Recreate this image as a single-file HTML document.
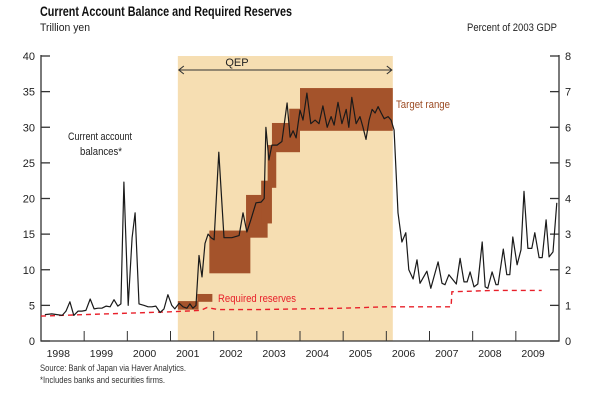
<!DOCTYPE html>
<html><head><meta charset="utf-8"><style>
html,body{margin:0;padding:0;background:#fff}
svg{display:block;font-family:"Liberation Sans",sans-serif}
</style></head><body>
<svg id="chart" width="600" height="405" viewBox="0 0 600 405"></svg>
<script>
const dates=[1998.09,1998.25,1998.37,1998.49,1998.58,1998.67,1998.76,1998.86,1998.95,1999.04,1999.14,1999.23,1999.32,1999.41,1999.51,1999.60,1999.69,1999.78,1999.85,1999.92,2000.02,2000.11,2000.18,2000.27,2000.39,2000.48,2000.57,2000.66,2000.76,2000.85,2000.94,2001.03,2001.10,2001.20,2001.29,2001.38,2001.45,2001.52,2001.59,2001.66,2001.73,2001.80,2001.87,2001.94,2002.01,2002.12,2002.24,2002.42,2002.59,2002.68,2002.77,2002.86,2002.98,2003.10,2003.17,2003.21,2003.28,2003.35,2003.47,2003.58,2003.70,2003.77,2003.84,2003.91,2004.00,2004.07,2004.16,2004.25,2004.35,2004.44,2004.53,2004.63,2004.72,2004.79,2004.88,2004.97,2005.07,2005.13,2005.20,2005.30,2005.39,2005.46,2005.53,2005.60,2005.67,2005.74,2005.81,2005.88,2005.95,2006.04,2006.11,2006.18,2006.27,2006.36,2006.45,2006.52,2006.62,2006.71,2006.78,2006.94,2007.03,2007.20,2007.29,2007.36,2007.45,2007.62,2007.71,2007.80,2007.87,2007.94,2008.03,2008.12,2008.22,2008.29,2008.35,2008.45,2008.54,2008.59,2008.71,2008.79,2008.86,2008.93,2009.03,2009.12,2009.19,2009.28,2009.37,2009.44,2009.54,2009.61,2009.70,2009.77,2009.86,2009.95];
const balances=[3.7,3.8,3.7,3.6,4.2,5.5,3.6,4.2,4.2,4.3,5.9,4.5,4.6,4.6,4.9,4.8,5.8,4.9,5.2,22.3,5.0,14.5,18.0,5.2,5.0,4.8,4.8,4.9,4.0,4.5,6.5,5.0,4.5,5.3,4.8,4.6,5.2,4.6,5.0,12.0,9.0,13.7,15.0,14.5,14.2,26.5,14.5,14.5,14.8,18.0,15.3,17.0,19.4,19.5,20.0,30.0,25.4,27.5,27.5,28.0,33.4,28.6,29.5,28.5,32.4,31.0,34.8,30.5,31.0,30.5,33.0,30.0,31.5,30.3,33.5,30.5,32.5,30.0,34.2,30.5,31.5,30.0,28.3,31.0,32.5,32.0,32.9,32.0,31.2,31.5,31.0,29.6,18.0,13.9,15.2,10.0,8.7,11.4,8.1,9.8,7.4,11.1,8.1,7.9,9.3,8.0,11.6,8.3,8.3,9.7,7.6,8.0,13.9,7.6,7.4,9.7,7.9,7.9,12.9,9.3,9.3,14.6,10.7,12.8,21.0,13.0,13.0,15.2,11.7,11.7,17.0,11.8,12.5,19.4];
const reserveDates=[1998.0,1999.0,2000.0,2001.0,2001.7,2001.85,2002.1,2003.0,2004.0,2005.0,2006.0,2007.5,2007.52,2008.5,2009.6];
const reserveValues=[3.5,3.7,3.9,4.1,4.3,4.7,4.4,4.4,4.5,4.6,4.8,4.8,6.9,7.1,7.1];
const targetStart=[2001.17,2001.62,2001.9,2002.75,2003.1,2003.25,2003.35,2003.75,2004.0];
const targetEnd=[2001.65,2001.97,2002.85,2003.25,2003.35,2003.45,2004.0,2004.0,2006.15];
const targetLow=[4.4,5.5,9.5,14.5,16.5,21.5,26.5,28.0,29.5];
const targetHigh=[5.6,6.6,15.5,20.5,22.5,27.5,30.6,32.6,35.5];
const qep=[2001.17,2006.15];
const leftTicks=[0,5,10,15,20,25,30,35,40];
const rightTicks=[0,1,2,3,4,5,6,7,8];
const years=[1998,1999,2000,2001,2002,2003,2004,2005,2006,2007,2008,2009];

const X0=41,X1=559,Y0=341,Y1=56,T0=1998,T1=2010;
const x=t=>X0+(t-T0)*(X1-X0)/(T1-T0);
const y=v=>Y0-v*(Y0-Y1)/40;
const yr=p=>Y0-p*(Y0-Y1)/8;
const NS="http://www.w3.org/2000/svg";
const svg=document.getElementById('chart');
function mk(tag,attrs,parent){const e=document.createElementNS(NS,tag);for(const k in attrs)e.setAttribute(k,attrs[k]);(parent||svg).appendChild(e);return e;}

let sh=mk('rect',{x:x(qep[0]),y:Y1,width:x(qep[1])-x(qep[0]),height:Y0-Y1,fill:'#f6deb2'});


for(let i=0;i<targetStart.length;i++){
 let r=mk('rect',{x:x(targetStart[i]),y:y(targetHigh[i]),width:x(targetEnd[i])-x(targetStart[i]),height:y(targetLow[i])-y(targetHigh[i]),fill:'#a4532b'});
 
 
}
let ax=mk('path',{d:`M${X0},${Y1-1}V${Y0}H${X1}V${Y1-1}`,stroke:'#333',fill:'none','stroke-width':1.3});


leftTicks.forEach(v=>{
 let t=mk('line',{x1:X0,x2:X0+9,y1:y(v),y2:y(v),stroke:'#333','stroke-width':1.3});
 
 
 let l=mk('text',{x:X0-6,y:y(v)+4,'text-anchor':'end','font-size':11,fill:'#222'});l.textContent=v;
 
 
});
rightTicks.forEach(v=>{
 let t=mk('line',{x1:X1-9,x2:X1,y1:yr(v),y2:yr(v),stroke:'#333','stroke-width':1.3});
 
 
 let l=mk('text',{x:X1+6,y:yr(v)+4,'font-size':11,fill:'#222'});l.textContent=v;
 
 
});
years.forEach(yv=>{
 if(yv>T0){let t=mk('line',{x1:x(yv),x2:x(yv),y1:Y0,y2:Y0-10,stroke:'#333','stroke-width':1});
 
 }
 let l=mk('text',{x:x(yv+0.4),y:357,'text-anchor':'middle','font-size':10.5,fill:'#222'});l.textContent=yv;
 
 
});
let rd='';reserveDates.forEach((t,i)=>{rd+=(i?'L':'M')+x(t).toFixed(1)+','+y(reserveValues[i]).toFixed(1);});
let rp=mk('path',{d:rd,stroke:'#e8202a',fill:'none','stroke-width':1.4,'stroke-dasharray':'5,4'});


let bd='';dates.forEach((t,i)=>{bd+=(i?'L':'M')+x(t).toFixed(1)+','+y(balances[i]).toFixed(1);});
let bp=mk('path',{d:bd,stroke:'#1a1a1a',fill:'none','stroke-width':1.2,'stroke-linejoin':'round'});


const ay=70,ax0=x(qep[0])+1,ax1=x(qep[1])-1;
let ar=mk('path',{d:`M${ax0},${ay}H${ax1}M${ax0+5},${ay-4}L${ax0},${ay}L${ax0+5},${ay+4}M${ax1-5},${ay-4}L${ax1},${ay}L${ax1-5},${ay+4}`,stroke:'#333',fill:'none','stroke-width':1.1});


</script>
<svg width="600" height="405" style="position:absolute;left:0;top:0">
<text x="40" y="16" font-size="13.5" font-weight="bold" fill="#111" textLength="252" lengthAdjust="spacingAndGlyphs">Current Account Balance and Required Reserves</text>
<text x="40" y="31" font-size="11" fill="#222" textLength="50" lengthAdjust="spacingAndGlyphs">Trillion yen</text>
<text x="557" y="31" font-size="11" fill="#222" text-anchor="end" textLength="90" lengthAdjust="spacingAndGlyphs">Percent of 2003 GDP</text>
<text x="237" y="66" font-size="11" fill="#222" text-anchor="middle">QEP</text>
<text x="396" y="108" font-size="11" fill="#9b4a22" textLength="54" lengthAdjust="spacingAndGlyphs">Target range</text>
<text x="68" y="140" font-size="11" fill="#222" textLength="64" lengthAdjust="spacingAndGlyphs">Current account</text>
<text x="80" y="155" font-size="11" fill="#222" textLength="42" lengthAdjust="spacingAndGlyphs">balances*</text>
<text x="218" y="302" font-size="11" fill="#e8202a" textLength="78" lengthAdjust="spacingAndGlyphs">Required reserves</text>
<text x="40" y="371" font-size="9" fill="#333" textLength="146" lengthAdjust="spacingAndGlyphs">Source: Bank of Japan via Haver Analytics.</text>
<text x="40" y="383" font-size="9" fill="#333" textLength="125" lengthAdjust="spacingAndGlyphs">*Includes banks and securities firms.</text>
</svg>
</body></html>
